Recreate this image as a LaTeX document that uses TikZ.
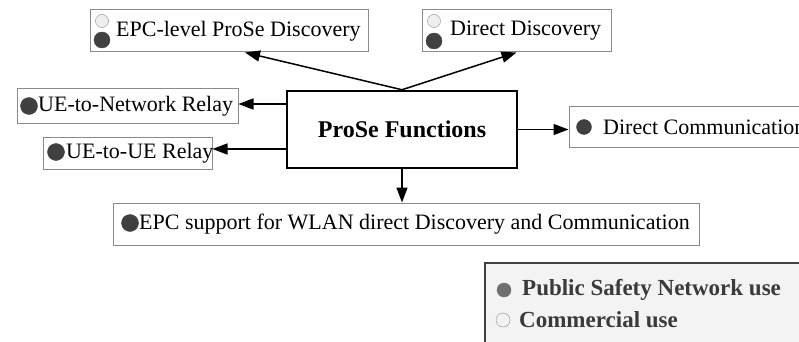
\documentclass[tikz,border=0pt]{standalone}
\usepackage{fontspec}
\setmainfont{Liberation Serif}
\usepackage{tikz}
\usetikzlibrary{arrows.meta,positioning}
\definecolor{dark}{HTML}{404040}
\definecolor{light}{HTML}{EEEEEE}
\definecolor{edge}{HTML}{8A8A8A}
\definecolor{legbg}{HTML}{F3F3F3}
\tikzstyle{bx} = [rectangle, draw=edge, line width=1pt, inner sep=0pt]
\tikzstyle{pf} = [rectangle, draw=black, line width=2.5pt, inner sep=0pt, font=\fontsize{24}{28}\selectfont\bfseries]
\tikzstyle{lg} = [rectangle, draw=dark, fill=legbg, line width=1.5pt, inner sep=0pt]
\tikzstyle{tx} = [anchor=west, inner sep=0pt, font=\fontsize{22}{26}\selectfont]
\tikzstyle{lt} = [anchor=west, inner sep=0pt, text=dark!90!black, font=\fontsize{23}{27}\selectfont\bfseries]
\tikzstyle{dk} = [circle, fill=dark, draw=dark, inner sep=0pt, minimum size=16pt]
\tikzstyle{wh} = [circle, fill=light, draw=edge, thin, inner sep=0pt, minimum size=13pt]
\tikzstyle{ar} = [-{Triangle[length=15pt,width=11pt]}, line width=1.5pt]

\begin{document}
\begin{tikzpicture}[x=1pt,y=-1pt]
		\useasboundingbox (0,0) rectangle (799,342);

		% boxes
		\node[pf, minimum width=230pt, minimum height=77pt] (prose) at (402,129.5) {ProSe Functions};
		\node[bx, minimum width=278pt, minimum height=42pt] (epcbox)  at (229,31) {};
		\node[bx, minimum width=189pt, minimum height=42pt] (discbox) at (516.5,31) {};
		\node[bx, minimum width=221pt, minimum height=34pt] (netbox)  at (127.5,106) {};
		\node[bx, minimum width=169pt, minimum height=32pt] (uebox)   at (127.5,153) {};
		\node[bx, minimum width=260pt, minimum height=41pt] (commbox) at (699,126.5) {};
		\node[bx, minimum width=586pt, minimum height=42pt] (wlanbox) at (406,224) {};
		\node[lg, minimum width=340pt, minimum height=110pt] (legend) at (655,318) {};

		% labels
		\node[tx] (epct)  at (116,31)  {EPC-level ProSe Discovery};
		\node[tx] (disct) at (450,31)  {Direct Discovery};
		\node[tx] (nett)  at (38,106)  {UE-to-Network Relay};
		\node[tx] (uet)   at (66,153)  {UE-to-UE Relay};
		\node[tx] (commt) at (603,127) {Direct Communication};
		\node[tx] (wlant) at (139,224) {EPC support for WLAN direct Discovery and Communication};
		\node[lt] (pst)   at (522,290) {Public Safety Network use};
		\node[lt] (comt)  at (519,320) {Commercial use};

		% bullets
		\node[wh] (epcw)  at (102,21) {};
		\node[dk] (epcd)  at (102,40) {};
		\node[wh] (discw) at (434,21) {};
		\node[dk] (discd) at (434,41) {};
		\node[dk, minimum size=17pt] (netd)  at (29,106) {};
		\node[dk, minimum size=17pt] (ued)   at (56,152) {};
		\node[dk, minimum size=15pt] (commd) at (584,127) {};
		\node[dk, minimum size=17pt] (wland) at (130,223) {};
		\node[dk, minimum size=14pt, fill=dark!75, draw=dark!75] (psd) at (504,290) {};
		\node[wh, minimum size=14pt, fill=legbg] (comd) at (503,320) {};

		% arrows
		\draw[ar] (prose.north) -- ([xshift=16pt]epcbox.south);
		\draw[ar] (prose.north) -- (discbox.south);
		\draw[ar] ([yshift=2pt]prose.west |- netbox.east) -- ([yshift=2pt]netbox.east);
		\draw[ar] ([yshift=4pt]prose.west |- uebox.east) -- ([yshift=4pt]uebox.east);
		\draw[ar] (prose.east) -- (commbox.west |- prose.east);
		\draw[ar] (prose.south) -- (wlanbox.north -| prose.south);
	\end{tikzpicture}
\end{document}
